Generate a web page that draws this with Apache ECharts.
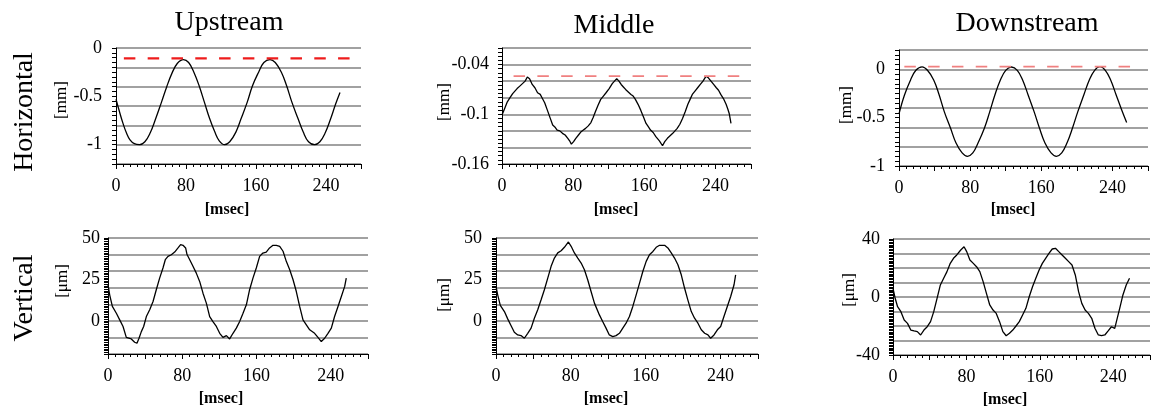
<!DOCTYPE html>
<html><head><meta charset="utf-8">
<script src="https://cdn.jsdelivr.net/npm/echarts@6/dist/echarts.min.js"></script>
<style>html,body{margin:0;padding:0;background:#fff}#c{width:1155px;height:409px}</style>
</head><body><div id="c"></div>
<script>
// ---------- data ----------
const columnTitles = ['Upstream', 'Middle', 'Downstream'];
const rowTitles = ['Horizontal', 'Vertical'];
const yUnitNames = ['[mm]', '[mm]', '[mm]', '[\u03bcm]', '[\u03bcm]', '[\u03bcm]'];
const xUnitName = '[msec]';
const xTickLabels = [0, 80, 160, 240];
const yTickLabels = [[0, -0.5, -1], [-0.04, -0.1, -0.16], [0, -0.5, -1], [50, 25, 0], [50, 25, 0], [40, 0, -40]];

// Upstream, horizontal [mm]
const upH_t = [0,4,8,12,16,21,27,33,39,45,52,58,64,70,77,83,89,95,101,107,113,118,124,130,137,143,150,156,163,169,176,182,189,195,201,208,214,220,227,233,239,245,251,256];
const upH_v = [-0.53,-0.66,-0.78,-0.88,-0.95,-0.99,-1.0,-0.97,-0.88,-0.74,-0.56,-0.40,-0.26,-0.16,-0.12,-0.15,-0.25,-0.39,-0.56,-0.73,-0.87,-0.96,-1.0,-0.97,-0.87,-0.73,-0.56,-0.39,-0.25,-0.15,-0.12,-0.15,-0.25,-0.39,-0.56,-0.73,-0.87,-0.97,-1.0,-0.97,-0.88,-0.74,-0.58,-0.46];

// Middle, horizontal [mm]
const midH_t = [0,3,6,9,12,14.5,17,20,23,26,28.5,31,34,37,40,43,45,48,51,54,57,60,62,65,68,71,74,76,78,80.5,83,86,89,91.5,94,97,100,102.5,105,108,111,114,117,120.5,124,126.5,129,131.5,134,136.5,139,142,145,147.5,150,153,156,159,162,164.5,167,170,173,177,180.5,183,186,189,192,194.5,197,200,203,206,209,211.5,214,217,220,223,226,229.5,232,235,238,241,243.5,246,249,252,254,255.5,257.5];
const midH_v = [-0.101,-0.093,-0.085,-0.080,-0.075,-0.072,-0.069,-0.066,-0.063,-0.060,-0.055,-0.057,-0.064,-0.068,-0.074,-0.076,-0.080,-0.086,-0.095,-0.104,-0.113,-0.116,-0.119,-0.120,-0.123,-0.125,-0.129,-0.132,-0.136,-0.133,-0.129,-0.125,-0.121,-0.119,-0.117,-0.114,-0.110,-0.104,-0.097,-0.089,-0.082,-0.078,-0.074,-0.069,-0.063,-0.060,-0.057,-0.060,-0.064,-0.067,-0.070,-0.073,-0.076,-0.078,-0.082,-0.088,-0.095,-0.103,-0.111,-0.115,-0.119,-0.122,-0.127,-0.132,-0.138,-0.133,-0.129,-0.126,-0.123,-0.120,-0.117,-0.112,-0.105,-0.097,-0.088,-0.082,-0.076,-0.072,-0.068,-0.064,-0.060,-0.054,-0.056,-0.060,-0.064,-0.068,-0.071,-0.076,-0.081,-0.088,-0.094,-0.099,-0.111];

// Downstream, horizontal [mm]
const dnH_t = [0,6,13,19,26,32,39,45,51,58,64,71,77,83,89,96,102,108,114,120,126.5,133,139,145,152,158,164,171,177,183,189,195,201,208,214,220,226,232,238,244,250,256];
const dnH_v = [-0.46,-0.27,-0.11,-0.01,0.026,-0.01,-0.11,-0.26,-0.44,-0.61,-0.76,-0.865,-0.9,-0.865,-0.76,-0.61,-0.44,-0.26,-0.11,-0.01,0.024,-0.01,-0.11,-0.26,-0.44,-0.61,-0.76,-0.865,-0.9,-0.865,-0.76,-0.61,-0.44,-0.26,-0.11,-0.01,0.027,-0.01,-0.11,-0.26,-0.41,-0.55];

// Upstream, vertical [um]
const upV_t = [0,1.8,4.7,9,12.6,16.2,19.7,25.1,28.7,31.2,33.4,35.9,38.4,41.3,44.9,48.5,52,55.6,59.2,61.7,64.6,68.2,71.8,75.4,78.2,80.8,83.6,85.1,88,91.5,95.1,98.7,102.3,105.9,109.5,113,116.7,120.3,123.8,127.5,131,134.6,138.2,141.8,145.4,149,152.5,156.1,159.7,163.3,166.8,170.4,174,177.7,181.3,184.9,188.5,192,195.7,199.3,202.8,206.4,210,213.6,217.2,222.5,226.1,229.7,233.3,236.9,240.5,244,247.7,251.3,254.9,256.6];
const upV_v = [21.8,15.7,8.7,4.6,0.6,-3.4,-10,-10.9,-12.9,-13.5,-10.5,-6.5,-3.4,2.6,6.7,11.7,18.8,25.8,31.9,36.9,38.9,39.9,41.5,44,46,45.6,44,40,36.9,32.9,28.8,23.8,16.7,10.7,2.6,-0.4,-3.4,-7.5,-10,-8.9,-10.9,-7.5,-4.4,-0.4,4.6,9.7,18.8,25.8,31.9,38.9,40.9,41.5,44,45.6,45.6,45,42,35.9,30.8,24.8,17.7,8.7,0.6,-2.4,-5.4,-7.5,-10,-12.5,-10.5,-7.5,-4.4,2.6,8.7,14.7,20.8,25.8];

// Middle, vertical [um]
const midV_t = [0,1.8,4.6,9,12.5,16,19.6,23.2,26.7,30.3,33.9,37.5,41,44.6,48.2,51.7,55.3,58.9,62.4,66,69.6,73.1,77.4,80.3,83.8,87.4,91,94.5,98,101.6,105.2,110.5,114,117.6,121.1,124.8,128.3,131.9,135.5,139,142.6,146.2,149.8,153.4,156.9,160.5,164,167.7,171.2,174.8,180.2,183.7,187.3,190.8,194.4,198,201.5,205,208.7,212.2,215.8,219.4,223,226.5,229.4,233,236.6,240.1,243.6,247.2,250.8,254.4,256.1];
const midV_v = [20.8,15.7,9.3,5.6,1.2,-2.8,-6.9,-8.5,-8.9,-10.5,-7.5,-4.4,1.6,6.7,12.7,18.8,25.8,32.9,37.9,41,42.3,44.4,47.6,45,41,37.9,34.9,30.8,24.8,17.7,10.7,3.6,-0.4,-4.4,-8.5,-9.5,-8.9,-7.5,-4.4,-1.4,2.6,8.7,15.7,22.8,29.8,35.9,39.9,41.9,44.4,45.6,45.6,44,41,37.9,33.9,27.8,19.8,12.7,5.6,1.6,-1.4,-5.4,-7.5,-8.5,-10.5,-8.5,-5.4,-3.4,2.6,8.7,14.7,21.8,27.8];

// Downstream, vertical [um]
const dnV_t = [0,2.2,5,8.6,12.2,15.8,19.4,23,26.5,30.1,33.7,37.3,40.9,44.4,48,51.6,55.2,58.8,62.4,65.9,69.5,73.8,77.4,80.3,83.8,87.5,91,94.6,98.2,101.8,105.4,109,112.5,116.1,119.7,123.3,126.9,130.5,134,137.6,141.2,144.8,148.4,152,155.6,159.2,162.7,166.3,169.9,173.5,177,180.6,184.2,187.8,191.4,195,198.6,202.2,205.7,209.3,212.9,216.5,220,223.7,227.2,230.8,234.4,238,241.6,243.4,247,250.5,254.1,257.7];
const dnV_v = [6,-0.5,-6.7,-10.1,-15.9,-18.2,-22.8,-23.4,-23.9,-26.2,-22.8,-20.5,-17,-10.1,-0.9,8.3,12.9,17.5,23.2,26.7,29,32.4,34.7,31.3,25.5,23.2,20.9,17.5,10.6,2.5,-5.5,-9,-11.3,-17,-23.9,-26.7,-25,-22.8,-20,-17,-12.4,-7.8,0.2,7.1,12.9,18.6,23.2,26.7,30.1,33.1,33.6,31.3,29,26.7,24.4,22.1,15.2,3.7,-4.4,-9,-11.3,-14.7,-21.6,-26.2,-26.7,-26.2,-23.4,-20.5,-21.6,-17,-7.8,1.4,8.3,12.9];

// red dashed reference levels (horizontal row)
const refLevel = [-0.108, -0.054, 0.027];
const refStart = [9, 13, 6];
const refEnd = [267, 268, 261];

// ---------- layout / styling ----------
const FONT = '"Liberation Serif","Times New Roman",serif';
const panels = [
  { t: upH_t,  v: upH_v,  min: -1.2,  max: 0,     grid: 0.2,  tick: 0.05,  smooth: true,  box: { left: 116, top: 48,  width: 245, height: 116 }, lm: 14 },
  { t: midH_t, v: midH_v, min: -0.16, max: -0.02, grid: 0.02, tick: 0.005, smooth: false, box: { left: 502, top: 48,  width: 249, height: 116 }, lm: 13 },
  { t: dnH_t,  v: dnH_v,  min: -1,    max: 0.2,   grid: 0.2,  tick: 0.05,  smooth: true,  box: { left: 899, top: 50,  width: 249, height: 116 }, lm: 14 },
  { t: upV_t,  v: upV_v,  min: -20,   max: 50,    grid: 10,   tick: 1,     smooth: false, box: { left: 108, top: 238, width: 260, height: 116 }, lm: 8 },
  { t: midV_t, v: midV_v, min: -20,   max: 50,    grid: 10,   tick: 1,     smooth: false, box: { left: 496, top: 238, width: 262, height: 116 }, lm: 14 },
  { t: dnV_t,  v: dnV_v,  min: -40,   max: 40,    grid: 10,   tick: 1,     smooth: false, box: { left: 893, top: 239, width: 257, height: 116 }, lm: 13 }
];
const refStyle = [
  { color: '#ee1c1c', width: 2.3 },
  { color: '#f08080', width: 1.7 },
  { color: '#f08080', width: 1.7 }
];

const near = (a, b) => Math.abs(a - b) < 1e-7;
const grids = [], xAxes = [], yAxes = [], series = [];

panels.forEach((p, i) => {
  grids.push(Object.assign({ containLabel: false }, p.box));
  xAxes.push({
    type: 'value', gridIndex: i, min: 0, max: 280, interval: 40,
    axisLine: { show: true, onZero: false, lineStyle: { color: '#000', width: 1 } },
    axisTick: { show: true, length: 5, lineStyle: { color: '#000', width: 1 } },
    minorTick: { show: true, splitNumber: 5, length: 3, lineStyle: { color: '#000', width: 1 } },
    splitLine: { show: false },
    axisLabel: {
      margin: 13, color: '#000', fontFamily: FONT, fontSize: 18, showMinLabel: true, showMaxLabel: true,
      formatter: v => { const l = xTickLabels.find(x => near(x, v)); return l === undefined ? '' : String(l); }
    }
  });
  yAxes.push({
    type: 'value', gridIndex: i, min: p.min, max: p.max, interval: p.grid, position: 'left',
    axisLine: { show: false, onZero: false }, axisTick: { show: false }, axisLabel: { show: false },
    splitLine: { show: true, lineStyle: { color: '#828282', width: 1.5 } }
  });
  const labs = yTickLabels[i];
  yAxes.push({
    type: 'value', gridIndex: i, min: p.min, max: p.max, interval: p.tick, position: 'left', offset: 0,
    axisLine: { show: true, onZero: false, lineStyle: { color: '#000', width: 1 } },
    axisTick: { show: true, length: 4, lineStyle: { color: '#000', width: 1 } },
    splitLine: { show: false },
    axisLabel: {
      margin: p.lm, color: '#000', fontFamily: FONT, fontSize: 18, align: 'right', showMinLabel: true, showMaxLabel: true,
      formatter: v => { const l = labs.find(x => Math.abs(x - v) < Math.abs(p.tick) * 0.01); return l === undefined ? '' : String(l); }
    }
  });
  series.push({
    type: 'line', xAxisIndex: i, yAxisIndex: 2 * i, z: 3,
    data: p.t.map((t, k) => [t, p.v[k]]),
    symbol: 'none', showSymbol: false, smooth: p.smooth ? 0.4 : false,
    lineStyle: { color: '#000', width: 1.3 }
  });
});

refLevel.forEach((lv, i) => {
  series.push({
    type: 'line', xAxisIndex: i, yAxisIndex: 2 * i, z: 4,
    data: [[refStart[i], lv], [refEnd[i], lv]],
    symbol: 'none', showSymbol: false,
    lineStyle: { color: refStyle[i].color, width: refStyle[i].width, type: [11.5, 12.3] }
  });
});

function txt(text, x, y, size, opts) {
  opts = opts || {};
  return {
    type: 'text', x: x, y: y, rotation: opts.rot ? Math.PI / 2 : 0, z: 10,
    style: {
      text: text, font: (opts.bold ? 'bold ' : '') + size + 'px ' + FONT, fill: '#000',
      textAlign: 'center', textVerticalAlign: 'middle', align: 'center', verticalAlign: 'middle'
    }
  };
}
const titlePos = [[229, 23], [614, 26], [1027, 24]];
const rowPos = [[25, 112], [25, 298]];
const yUnitPos = [[62, 100], [445, 102], [847, 105], [63, 281], [445, 295], [850, 290]];
const xUnitPos = [[227, 210], [616, 210], [1013, 210], [221, 399], [606, 399], [1005, 400]];
const graphics = [];
columnTitles.forEach((t, i) => graphics.push(txt(t, titlePos[i][0], titlePos[i][1], 28)));
rowTitles.forEach((t, i) => graphics.push(txt(t, rowPos[i][0], rowPos[i][1], 28, { rot: true })));
yUnitNames.forEach((t, i) => graphics.push(txt(t, yUnitPos[i][0], yUnitPos[i][1], 17, { rot: true })));
xUnitPos.forEach(p => graphics.push(txt(xUnitName, p[0], p[1], 16, { bold: true })));

const chart = echarts.init(document.getElementById('c'), null, { renderer: 'canvas' });
chart.setOption({
  backgroundColor: '#fff',
  animation: false,
  grid: grids, xAxis: xAxes, yAxis: yAxes, series: series,
  graphic: graphics
});
</script>
</body></html>
